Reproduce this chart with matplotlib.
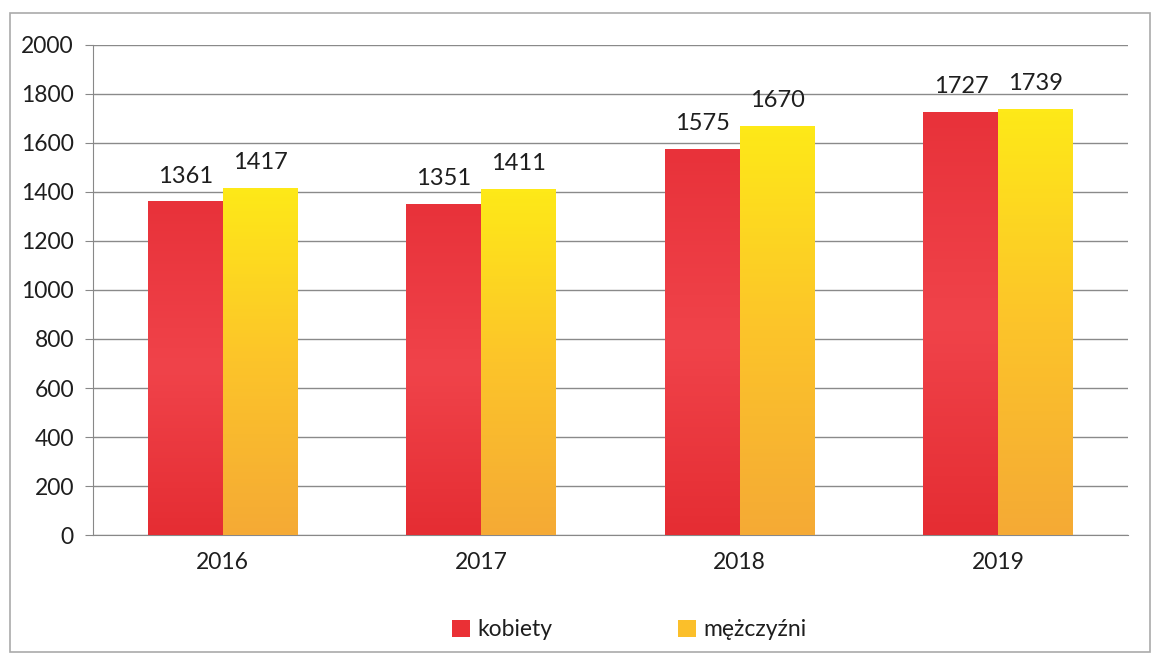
import numpy as np
import matplotlib.pyplot as plt
from matplotlib.patches import Rectangle
from matplotlib.colors import LinearSegmentedColormap

plt.rcParams['font.family'] = ['Lato', 'DejaVu Sans']

# dane
lata = ["2016", "2017", "2018", "2019"]
kobiety = [1361, 1351, 1575, 1727]
mezczyzni = [1417, 1411, 1670, 1739]

fig = plt.figure(figsize=(11.53, 6.59), dpi=100)
ax = fig.add_axes([0.081, 0.188, 0.897, 0.744])

x = np.arange(len(lata))
w = 0.29

b1 = ax.bar(x - w / 2, kobiety, w, color="#ea3035", label="kobiety", zorder=3)
b2 = ax.bar(x + w / 2, mezczyzni, w, color="#fbbf2a", label="mężczyźni", zorder=3)

# gradient w słupkach
grad = np.linspace(0, 1, 100).reshape(-1, 1)
cm_red = LinearSegmentedColormap.from_list("r", ["#e52d33", "#f0434a", "#e8323a"])
cm_yel = LinearSegmentedColormap.from_list("y", ["#f5aa35", "#fcc42a", "#fee918"])
for bars, cm in ((b1, cm_red), (b2, cm_yel)):
    for bar in bars:
        x0, y0 = bar.get_x(), bar.get_y()
        bw, bh = bar.get_width(), bar.get_height()
        im = ax.imshow(grad, cmap=cm, aspect="auto", origin="lower",
                       extent=[x0, x0 + bw, y0, y0 + bh], zorder=3.5)
        im.set_clip_path(bar)

for bars, vals in ((b1, kobiety), (b2, mezczyzni)):
    for bar, v in zip(bars, vals):
        ax.text(bar.get_x() + bar.get_width() / 2, v + 60, str(v),
                ha="center", va="bottom", fontsize=17, color="#1e1e1e", zorder=5)

ax.set_xlim(-0.5, 3.5)
ax.set_ylim(0, 2000)
ax.set_yticks(range(0, 2001, 200))
ax.set_xticks(x)
ax.set_xticklabels(lata)
ax.tick_params(axis="both", labelsize=16.5, colors="#888888", labelcolor="#1e1e1e")
ax.tick_params(axis="x", length=0, pad=12)
ax.tick_params(axis="y", length=6, pad=8)
ax.grid(axis="y", color="#8a8a8a", linewidth=1, zorder=0)
for s in ["top", "right"]:
    ax.spines[s].set_visible(False)
for s in ["left", "bottom"]:
    ax.spines[s].set_color("#888888")

ax.legend(loc="upper center", bbox_to_anchor=(0.518, -0.13), ncol=2, frameon=False,
          fontsize=16.5, handlelength=0.8, handleheight=0.8, handletextpad=0.3,
          columnspacing=5.5, labelcolor="#1e1e1e")

fig.patches.append(Rectangle((0.009, 0.01), 0.988, 0.97, transform=fig.transFigure,
                             fill=False, edgecolor="#aaaaaa", linewidth=1.2))

fig.savefig("out.png", dpi=100)
